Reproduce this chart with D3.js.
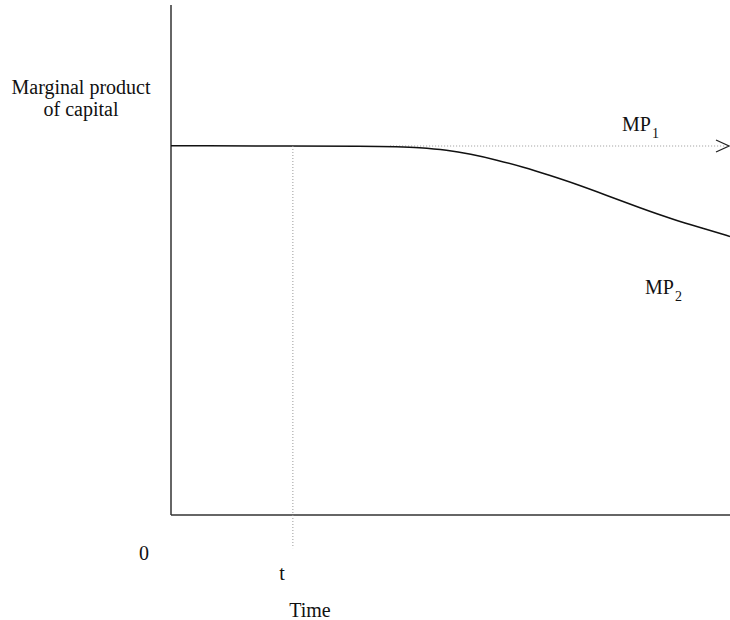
<!DOCTYPE html>
<html>
<head>
<meta charset="utf-8">
<script src="https://cdn.jsdelivr.net/npm/d3@7"></script>
<style>
body{margin:0;background:#fff;}
text{font-family:"Liberation Serif","Times New Roman",serif;fill:#111;}
</style>
</head>
<body>
<script>
// curve of MP2 (time, marginal product)
var mp2Time=[0,39.2,44.5,49.4,53.5,58.3,63.0,67.8,71.9,78.0,83.9,89.8,95.9,100];
var mp2Value=[72.4,72.35,72.06,71.57,70.78,69.61,68.24,66.57,65.1,62.65,60.2,57.94,55.98,54.61];
// MP1 stays flat
var mp1Time=[39.2,99];
var mp1Value=[72.35,72.35];
var tTime=21.8;
var tFloor=-6.5;

var width=730,height=620;
var svg=d3.select('body').append('svg')
    .attr('width',width)
    .attr('height',height);

var xScale=d3.scaleLinear().domain([0,100]).range([171,730]);
var yScale=d3.scaleLinear().domain([0,100]).range([515,5]);

// axes as plain lines
svg.append('line')
    .attr('x1',xScale(0)).attr('x2',xScale(0))
    .attr('y1',yScale(0)).attr('y2',yScale(100))
    .style('stroke','#333').style('stroke-width',1.5);
svg.append('line')
    .attr('x1',xScale(0)).attr('x2',xScale(100))
    .attr('y1',yScale(0)).attr('y2',yScale(0))
    .style('stroke','#333').style('stroke-width',1.5);

var line=d3.line()
    .x(d=>xScale(d[0]))
    .y(d=>yScale(d[1]))
    .curve(d3.curveBasis);

// dotted MP1
svg.append('path')
    .datum(d3.zip(mp1Time,mp1Value))
    .attr('d',line)
    .style('fill','none')
    .style('stroke','#999')
    .style('stroke-width',1)
    .style('stroke-dasharray','1,2');

// arrow head at end of MP1
var ax=xScale(100)-1, ay=yScale(mp1Value[1]);
svg.append('path')
    .attr('d','M'+(ax-13)+','+(ay-6)+'L'+ax+','+ay+'L'+(ax-13)+','+(ay+6))
    .style('fill','none').style('stroke','#222').style('stroke-width',1.2);

// MP2 solid
svg.append('path')
    .datum(d3.zip(mp2Time,mp2Value))
    .attr('d',line)
    .style('fill','none')
    .style('stroke','#111')
    .style('stroke-width',1.5);

// vertical dotted at t
svg.append('line')
    .attr('x1',xScale(tTime)).attr('x2',xScale(tTime))
    .attr('y1',yScale(mp1Value[0])).attr('y2',yScale(tFloor))
    .style('stroke','#999').style('stroke-width',1)
    .style('stroke-dasharray','1,2');

// labels
svg.append('text').attr('x',81).attr('y',94)
    .attr('text-anchor','middle').style('font-size','20px')
    .text('Marginal product');
svg.append('text').attr('x',81).attr('y',116)
    .attr('text-anchor','middle').style('font-size','20px')
    .text('of capital');

var mp1=svg.append('text').attr('x',622).attr('y',131).style('font-size','20px');
mp1.append('tspan').text('MP');
mp1.append('tspan').attr('dy',7).attr('dx',1).style('font-size','14px').text('1');

var mp2=svg.append('text').attr('x',645).attr('y',294).style('font-size','20px');
mp2.append('tspan').text('MP');
mp2.append('tspan').attr('dy',7).attr('dx',1).style('font-size','14px').text('2');

svg.append('text').attr('x',144).attr('y',560)
    .attr('text-anchor','middle').style('font-size','20px').text('0');
svg.append('text').attr('x',282).attr('y',580)
    .attr('text-anchor','middle').style('font-size','20px').text('t');
svg.append('text').attr('x',310).attr('y',617)
    .attr('text-anchor','middle').style('font-size','20px').text('Time');
</script>
</body>
</html>
